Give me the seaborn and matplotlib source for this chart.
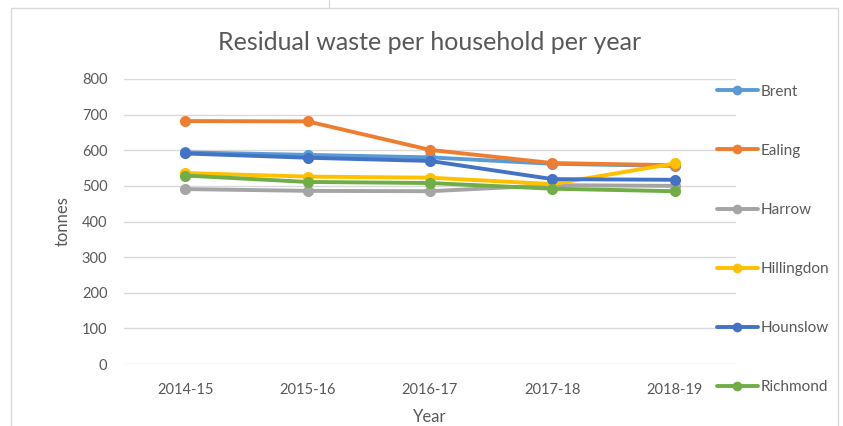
import matplotlib
matplotlib.use("Agg")
import matplotlib.pyplot as plt
import seaborn as sns
import pandas as pd
from matplotlib.lines import Line2D
from matplotlib.patches import Rectangle

years = ["2014-15", "2015-16", "2016-17", "2017-18", "2018-19"]
brent = [594, 587, 580, 562, 556]
ealing = [682, 681, 601, 564, 558]
harrow = [491, 486, 485, 502, 500]
hillingdon = [536, 526, 523, 505, 563]
hounslow = [591, 579, 570, 519, 517]
richmond = [529, 511, 508, 492, 485]

boroughs = ["Brent", "Ealing", "Harrow", "Hillingdon", "Hounslow", "Richmond"]
series = [brent, ealing, harrow, hillingdon, hounslow, richmond]
colors = ["#5B9BD5", "#ED7D31", "#A5A5A5", "#FFC000", "#4472C4", "#70AD47"]

df = pd.DataFrame(
    [(b, y, v) for b, vals in zip(boroughs, series) for y, v in zip(years, vals)],
    columns=["Borough", "Year", "tonnes"],
)

sns.set_theme(style="white")
plt.rcParams["font.family"] = ["Lato", "DejaVu Sans"]

fig = plt.figure(figsize=(8.43, 4.26), dpi=100)
ax = fig.add_axes([124 / 843, 1 - 364 / 426, (736 - 124) / 843, (364 - 79) / 426])

# chart frame
fig.add_artist(Rectangle((11 / 843, -0.05), (838 - 11) / 843, 1 - 8 / 426 + 0.05,
                         transform=fig.transFigure, fill=False, edgecolor="#d9d9d9", lw=1))
fig.add_artist(Line2D([329 / 843, 329 / 843], [1, 1 - 8 / 426], transform=fig.transFigure,
                      color="#d9d9d9", lw=1))

sns.lineplot(data=df, x="Year", y="tonnes", hue="Borough", hue_order=boroughs,
             palette=colors, marker="o", markersize=8, markeredgewidth=0,
             linewidth=2.8, ax=ax, legend=False, sort=False)

ax.set_xlim(-0.5, 4.5)
ax.set_ylim(0, 800)
ax.set_yticks(range(0, 801, 100))
ax.yaxis.grid(True, color="#d9d9d9", lw=1)
ax.set_axisbelow(True)
for s in ax.spines.values():
    s.set_visible(False)
ax.tick_params(axis="both", colors="#595959", labelsize=10.5, length=0)
ax.tick_params(axis="y", pad=12)
ax.tick_params(axis="x", pad=14)
ax.set_xlabel("Year", color="#595959", fontsize=12, labelpad=8)
ax.set_ylabel("tonnes", color="#595959", fontsize=12, labelpad=8)
ax.set_title("Residual waste per household per year", color="#595959",
             fontsize=18, pad=21)

handles = [Line2D([], [], color=c, lw=2.8, marker="o", markersize=7, markeredgewidth=0)
           for c in colors]
fig.legend(handles, boroughs, loc="upper left", bbox_to_anchor=(703 / 843, 1 - 71 / 426),
           frameon=False, labelspacing=2.95, handlelength=2.7, handletextpad=0.2,
           fontsize=11, labelcolor="#595959")

fig.savefig("out.png", dpi=100)
